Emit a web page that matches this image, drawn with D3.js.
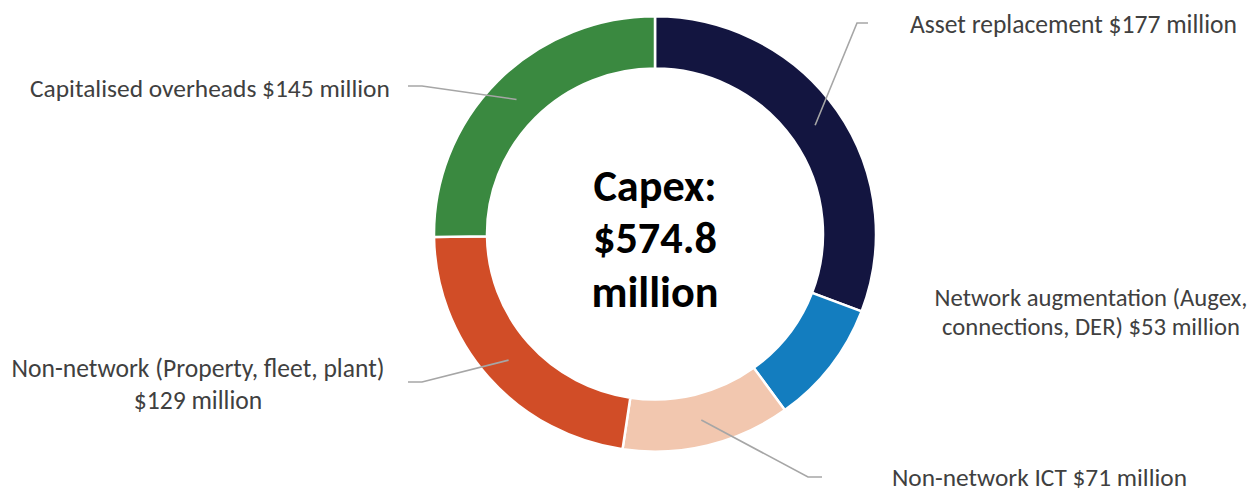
<!DOCTYPE html>
<html>
<head>
<meta charset="utf-8">
<script src="https://cdn.jsdelivr.net/npm/d3@7"></script>
<style>
  html, body { margin: 0; padding: 0; background: #ffffff; }
  svg { display: block; }
  text { font-family: Carlito, Calibri, Lato, "Open Sans", sans-serif; }
</style>
</head>
<body>
<svg id="chart" width="1258" height="491"></svg>
<script>
// ---- data ----
const categories = [
  "Asset replacement",
  "Network augmentation (Augex, connections, DER)",
  "Non-network ICT",
  "Non-network (Property, fleet, plant)",
  "Capitalised overheads"
];
const values = [177, 53, 71, 129, 145];
const labelLines = [
  ["Asset replacement $177 million"],
  ["Network augmentation (Augex,", "connections, DER) $53 million"],
  ["Non-network ICT $71 million"],
  ["Non-network (Property, fleet, plant)", "$129 million"],
  ["Capitalised overheads $145 million"]
];
const centerLines = ["Capex:", "$574.8", "million"];
const colors = ["#131540", "#137dbf", "#f2c7af", "#d14d27", "#3a8940"];

// ---- layout ----
const W = 1258, H = 491;
const cx = 655, cy = 234, outerR = 221, innerR = 168;
const labelLayout = [
  { anchor: "start", x: 910, y: [24], leader: [[857, 23], [868, 23]] },
  { anchor: "middle", x: 1091, y: [298, 327], leader: null },
  { anchor: "start", x: 892, y: [477], leader: [[808, 477], [822, 477]] },
  { anchor: "middle", x: 198, y: [368, 400], leader: [[422, 382], [408, 382]] },
  { anchor: "start", x: 30, y: [88], leader: [[422, 86], [408, 86]] }
];
const targetWidths = [327, 313, 295, 373, 360];

const svg = d3.select("#chart");
const data = categories.map((c, i) => ({ name: c, value: values[i], i }));

const pie = d3.pie().value(d => d.value).sort(null);
const arcs = pie(data);
const arc = d3.arc().innerRadius(innerR).outerRadius(outerR);

const g = svg.append("g").attr("transform", `translate(${cx},${cy}) scale(1,0.985)`);
g.selectAll("path.slice").data(arcs).join("path")
  .attr("class", "slice")
  .attr("d", arc)
  .attr("fill", d => colors[d.data.i])
  .attr("stroke", "#ffffff")
  .attr("stroke-width", 2.5);

// leader lines
const line = d3.line();
arcs.forEach((a, i) => {
  const L = labelLayout[i];
  if (!L.leader) return;
  const c = arc.centroid(a);
  const start = [cx + c[0], cy + c[1] * 0.985];
  svg.append("path")
    .attr("d", line([start, ...L.leader]))
    .attr("fill", "none")
    .attr("stroke", "#a6a6a6")
    .attr("stroke-width", 1.6);
});

// labels
labelLines.forEach((lines, i) => {
  const L = labelLayout[i];
  const t = svg.append("g");
  const texts = lines.map((s, k) => t.append("text")
    .attr("x", L.x).attr("y", L.y[k])
    .attr("text-anchor", L.anchor)
    .attr("dominant-baseline", "central")
    .attr("fill", "#404040")
    .style("font-size", "22px")
    .text(s));
  // fit first line width to target
  const w = texts[0].node().getComputedTextLength();
  const fs = 22 * targetWidths[i] / w;
  texts.forEach(tx => tx.style("font-size", fs.toFixed(2) + "px"));
});

// center text
const cyLines = [186, 238, 292];
const ct = centerLines.map((s, k) => svg.append("text")
  .attr("x", cx).attr("y", cyLines[k])
  .attr("text-anchor", "middle")
  .attr("dominant-baseline", "central")
  .attr("fill", "#000000")
  .style("font-weight", "bold")
  .style("font-size", "40px")
  .text(s));
const cw = ct[2].node().getComputedTextLength();
const cfs = 40 * 127 / cw;
ct.forEach(t => t.style("font-size", cfs.toFixed(2) + "px"));
</script>
</body>
</html>
